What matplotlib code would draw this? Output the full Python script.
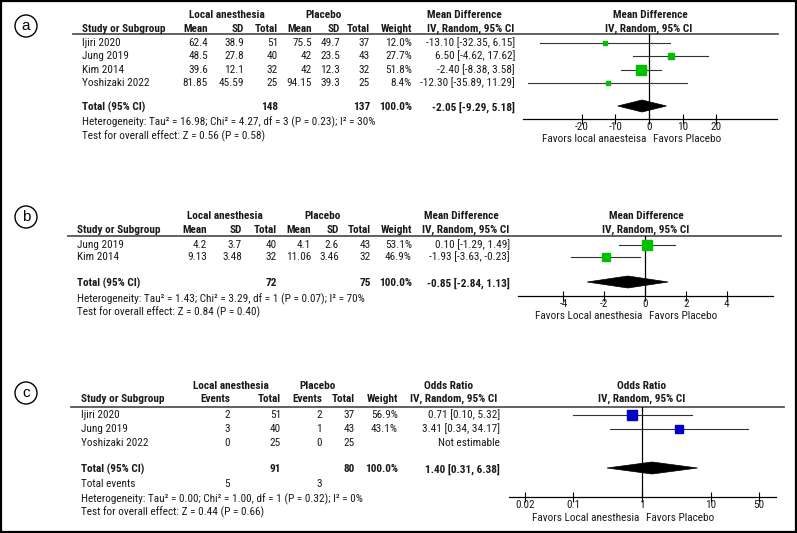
import matplotlib.pyplot as plt
from matplotlib import font_manager
from matplotlib.patches import Circle, Rectangle, Polygon
from matplotlib.transforms import blended_transform_factory

# condensed face gets closer to the squeezed Arial of the original
_names = {f.name for f in font_manager.fontManager.ttflist}
if 'Roboto Condensed' in _names:
    plt.rcParams['font.family'] = ['Roboto Condensed', 'DejaVu Sans']
    FS = 8.1
    TICKPAD = -1.5
else:
    plt.rcParams['font.family'] = ['Liberation Sans', 'DejaVu Sans']
    FS = 7.0
    TICKPAD = 0
plt.rcParams['axes.unicode_minus'] = False

W, H = 797, 533
TXT = '#1a1a1a'

# --- (a) mean difference ---
studies_a = ["Ijiri 2020", "Jung 2019", "Kim 2014", "Yoshizaki 2022"]
la_mean_a = [62.4, 48.5, 39.6, 81.85]
la_sd_a = [38.9, 27.8, 12.1, 45.59]
la_n_a = [51, 40, 32, 25]
pl_mean_a = [75.5, 42, 42, 94.15]
pl_sd_a = [49.7, 23.5, 12.3, 39.3]
pl_n_a = [37, 43, 32, 25]
weight_a = [12.0, 27.7, 51.8, 8.4]
md_a = [-13.10, 6.50, -2.40, -12.30]
lo_a = [-32.35, -4.62, -8.38, -35.89]
hi_a = [6.15, 17.62, 3.58, 11.29]
total_a = (148, 137, -2.05, -9.29, 5.18)
het_a = "Heterogeneity: Tau² = 16.98; Chi² = 4.27, df = 3 (P = 0.23); I² = 30%"
test_a = "Test for overall effect: Z = 0.56 (P = 0.58)"
ticks_a = [-20, -10, 0, 10, 20]

# --- (b) mean difference ---
studies_b = ["Jung 2019", "Kim 2014"]
la_mean_b = [4.2, 9.13]
la_sd_b = [3.7, 3.48]
la_n_b = [40, 32]
pl_mean_b = [4.1, 11.06]
pl_sd_b = [2.6, 3.46]
pl_n_b = [43, 32]
weight_b = [53.1, 46.9]
md_b = [0.10, -1.93]
lo_b = [-1.29, -3.63]
hi_b = [1.49, -0.23]
total_b = (72, 75, -0.85, -2.84, 1.13)
het_b = "Heterogeneity: Tau² = 1.43; Chi² = 3.29, df = 1 (P = 0.07); I² = 70%"
test_b = "Test for overall effect: Z = 0.84 (P = 0.40)"
ticks_b = [-4, -2, 0, 2, 4]

# --- (c) odds ratio ---
studies_c = ["Ijiri 2020", "Jung 2019", "Yoshizaki 2022"]
la_ev_c = [2, 3, 0]
la_n_c = [51, 40, 25]
pl_ev_c = [2, 1, 0]
pl_n_c = [37, 43, 25]
weight_c = [56.9, 43.1, None]
or_c = [0.71, 3.41, None]
lo_c = [0.10, 0.34, None]
hi_c = [5.32, 34.17, None]
total_c = (91, 80, 1.40, 0.31, 6.38)
events_c = (5, 3)
het_c = "Heterogeneity: Tau² = 0.00; Chi² = 1.00, df = 1 (P = 0.32); I² = 0%"
test_c = "Test for overall effect: Z = 0.44 (P = 0.66)"
ticks_c = [0.02, 0.1, 1, 10, 50]
ticklabels_c = ["0.02", "0.1", "1", "10", "50"]

fig = plt.figure(figsize=(W / 100, H / 100), dpi=100)
bg = fig.add_axes([0, 0, 1, 1])
bg.set_xlim(0, W)
bg.set_ylim(H, 0)
bg.axis('off')
bg.add_patch(Rectangle((1, 1), W - 2, H - 2, fill=False, ec='black', lw=1.6))


def txt(x, y, s, ha='left', bold=False):
    bg.text(x, y, s, ha=ha, va='center', fontsize=FS, color=TXT,
            fontweight='bold' if bold else 'normal')


def label(cx, cy, s):
    bg.add_patch(Circle((cx, cy), 11, fill=False, ec='black', lw=1.0))
    bg.text(cx, cy, s, ha='center', va='center', fontsize=11, color='black',
            family=['Liberation Sans', 'DejaVu Sans'])


def forest_ax(x0, x1, ytop, yaxis, xlim, log=False):
    ax = fig.add_axes([x0 / W, 1 - yaxis / H, (x1 - x0) / W, (yaxis - ytop) / H])
    if log:
        ax.set_xscale('log')
    ax.set_xlim(*xlim)
    ax.set_ylim(yaxis, ytop)
    ax.patch.set_alpha(0)
    for s in ['top', 'left', 'right']:
        ax.spines[s].set_visible(False)
    ax.spines['bottom'].set_linewidth(0.9)
    ax.set_yticks([])
    ax.tick_params(axis='x', direction='inout', length=7, width=0.8,
                   labelsize=FS, pad=TICKPAD, labelcolor=TXT)
    ax.minorticks_off()
    return ax


def favors(ax, zero, y, left, right):
    tr = blended_transform_factory(ax.transData, bg.transData)
    ax.annotate(left, xy=(zero, y), xycoords=tr, xytext=(-3, 0), textcoords='offset pixels',
                ha='right', va='center', fontsize=FS, color=TXT, annotation_clip=False)
    ax.annotate(right, xy=(zero, y), xycoords=tr, xytext=(4, 0), textcoords='offset pixels',
                ha='left', va='center', fontsize=FS, color=TXT, annotation_clip=False)


def num(v):
    return f"{v:g}"


def ci(e, lo, hi):
    return f"{e:.2f} [{lo:.2f}, {hi:.2f}]"


def forest(ax, zero, ys, est, lo, hi, weight, ytot, tot, color):
    ax.axvline(zero, color='black', lw=0.9)
    for y, e, l, h, w in zip(ys, est, lo, hi, weight):
        if e is None:
            continue
        ax.plot([l, h], [y, y], color='#333333', lw=0.8)
        ax.plot([e], [y], marker='s', ms=1.3 * w ** 0.5 * 0.72, color=color, mec=color)
    e, l, h = tot
    ax.add_patch(Polygon([(l, ytot), (e, ytot - 6), (h, ytot), (e, ytot + 6)],
                         closed=True, fc='black', ec='black', lw=0.5))


# ================= panel a =================
label(26, 26, "a")
cols = [208, 244, 278, 312, 340, 370, 412, 515]
txt(227, 15, "Local anesthesia", 'center', True)
txt(324, 15, "Placebo", 'center', True)
txt(464, 15, "Mean Difference", 'center', True)
txt(650, 15, "Mean Difference", 'center', True)
txt(82, 29, "Study or Subgroup", bold=True)
for x, s in zip(cols[:7], ["Mean", "SD", "Total", "Mean", "SD", "Total", "Weight"]):
    txt(x, 29, s, 'right', True)
txt(471, 29, "IV, Random, 95% CI", 'center', True)
txt(649, 29, "IV, Random, 95% CI", 'center', True)
bg.plot([73, 778], [34, 34], color='#555555', lw=1.3)
ys_a = [43, 56, 70, 83]
for i, y in enumerate(ys_a):
    txt(82, y, studies_a[i])
    vals = [num(la_mean_a[i]), num(la_sd_a[i]), str(la_n_a[i]), num(pl_mean_a[i]),
            num(pl_sd_a[i]), str(pl_n_a[i]), f"{weight_a[i]:.1f}%", ci(md_a[i], lo_a[i], hi_a[i])]
    for x, s in zip(cols, vals):
        txt(x, y, s, 'right')
txt(82, 107, "Total (95% CI)", bold=True)
txt(cols[2], 107, str(total_a[0]), 'right', True)
txt(cols[5], 107, str(total_a[1]), 'right', True)
txt(cols[6], 107, "100.0%", 'right', True)
txt(cols[7], 107, ci(*total_a[2:]), 'right', True)
txt(82, 122, het_a)
txt(82, 136, test_a)

ax = forest_ax(523, 777, 34, 119, (-37.4, 38.0))
forest(ax, 0, ys_a, md_a, lo_a, hi_a, weight_a, 106, total_a[2:], '#00c000')
ax.set_xticks(ticks_a, [str(t) for t in ticks_a])
favors(ax, 0, 139, "Favors local anaesteisa", "Favors Placebo")

# ================= panel b =================
label(26, 217, "b")
cols = [207, 242, 277, 311, 339, 371, 412, 510]
txt(225, 216, "Local anesthesia", 'center', True)
txt(323, 216, "Placebo", 'center', True)
txt(461, 216, "Mean Difference", 'center', True)
txt(646, 216, "Mean Difference", 'center', True)
txt(77, 230, "Study or Subgroup", bold=True)
for x, s in zip(cols[:7], ["Mean", "SD", "Total", "Mean", "SD", "Total", "Weight"]):
    txt(x, 230, s, 'right', True)
txt(466, 230, "IV, Random, 95% CI", 'center', True)
txt(646, 230, "IV, Random, 95% CI", 'center', True)
bg.plot([68, 781], [236, 236], color='#555555', lw=1.3)
ys_b = [245, 257]
for i, y in enumerate(ys_b):
    txt(77, y, studies_b[i])
    vals = [num(la_mean_b[i]), num(la_sd_b[i]), str(la_n_b[i]), num(pl_mean_b[i]),
            num(pl_sd_b[i]), str(pl_n_b[i]), f"{weight_b[i]:.1f}%", ci(md_b[i], lo_b[i], hi_b[i])]
    for x, s in zip(cols, vals):
        txt(x, y, s, 'right')
txt(77, 283, "Total (95% CI)", bold=True)
txt(cols[2], 283, str(total_b[0]), 'right', True)
txt(cols[5], 283, str(total_b[1]), 'right', True)
txt(cols[6], 283, "100.0%", 'right', True)
txt(cols[7], 283, ci(*total_b[2:]), 'right', True)
txt(77, 299, het_b)
txt(77, 312, test_b)

ax = forest_ax(518, 773, 236, 296, (-6.23, 6.27))
forest(ax, 0, ys_b, md_b, lo_b, hi_b, weight_b, 282, total_b[2:], '#00c000')
ax.set_xticks(ticks_b, [str(t) for t in ticks_b])
favors(ax, 0, 316, "Favors Local anesthesia", "Favors Placebo")

# ================= panel c =================
label(26, 393, "c")
cols = [230, 281, 322, 355, 398, 500]
txt(231, 386, "Local anesthesia", 'center', True)
txt(318, 386, "Placebo", 'center', True)
txt(449, 386, "Odds Ratio", 'center', True)
txt(642, 386, "Odds Ratio", 'center', True)
txt(81, 399, "Study or Subgroup", bold=True)
for x, s in zip(cols[:5], ["Events", "Total", "Events", "Total", "Weight"]):
    txt(x, 399, s, 'right', True)
txt(454, 399, "IV, Random, 95% CI", 'center', True)
txt(642, 399, "IV, Random, 95% CI", 'center', True)
bg.plot([71, 784], [407, 407], color='#555555', lw=1.3)
ys_c = [415, 429, 443]
for i, y in enumerate(ys_c):
    txt(81, y, studies_c[i])
    w = "" if weight_c[i] is None else f"{weight_c[i]:.1f}%"
    c = "Not estimable" if or_c[i] is None else ci(or_c[i], lo_c[i], hi_c[i])
    vals = [str(la_ev_c[i]), str(la_n_c[i]), str(pl_ev_c[i]), str(pl_n_c[i]), w, c]
    for x, s in zip(cols, vals):
        txt(x, y, s, 'right')
txt(81, 469, "Total (95% CI)", bold=True)
txt(cols[1], 469, str(total_c[0]), 'right', True)
txt(cols[3], 469, str(total_c[1]), 'right', True)
txt(cols[4], 469, "100.0%", 'right', True)
txt(cols[5], 469, ci(*total_c[2:]), 'right', True)
txt(81, 484, "Total events")
txt(cols[0], 484, str(events_c[0]), 'right')
txt(cols[2], 484, str(events_c[1]), 'right')
txt(81, 499, het_c)
txt(81, 512, test_c)

ax = forest_ax(509, 776, 407, 497, (0.0118, 87.5), log=True)
forest(ax, 1, ys_c, or_c, lo_c, hi_c, [w if w else 0 for w in weight_c], 468,
       total_c[2:], '#0000c8')
ax.set_xticks(ticks_c, ticklabels_c)
ax.minorticks_off()
favors(ax, 1, 518, "Favors Local anesthesia", "Favors Placebo")

fig.savefig("out.png", dpi=100)
